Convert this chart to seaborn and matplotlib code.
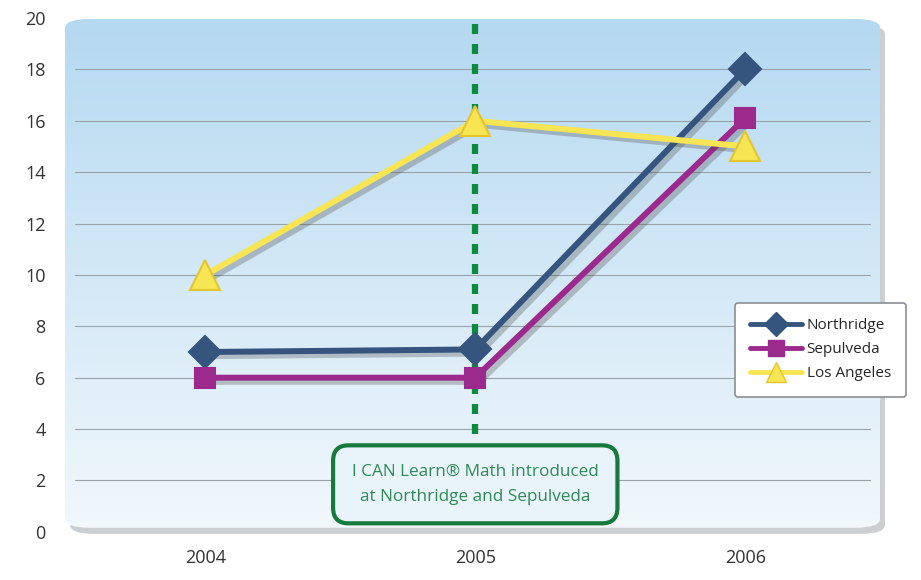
import numpy as np
import pandas as pd
import matplotlib
matplotlib.use('Agg')
import matplotlib.pyplot as plt
import matplotlib.patheffects as pe
from matplotlib.colors import to_hex
from matplotlib.patches import FancyBboxPatch
import seaborn as sns

# 数据
years = ['2004', '2005', '2006']
northridge = [7, 7.1, 18]
sepulveda = [6, 6, 16.1]
los_angeles = [10, 16, 15]
series_names = ['Northridge', 'Sepulveda', 'Los Angeles']
y_ticks = [0, 2, 4, 6, 8, 10, 12, 14, 16, 18, 20]
note_text = 'I CAN Learn\u00ae Math introduced\nat Northridge and Sepulveda'

df = pd.DataFrame({
    'year': years * 3,
    'value': northridge + sepulveda + los_angeles,
    'school': [n for n in series_names for _ in years],
})

sns.set_style('white')
plt.rcParams['font.family'] = ['Open Sans', 'DejaVu Sans']

fig = plt.figure(figsize=(9.21, 5.8), dpi=100)
ax = fig.add_axes([0.0706, 0.083, 0.885, 0.886])
ax.set_xlim(-0.52, 2.5)
ax.set_ylim(0, 20)

# 背景渐变 + 圆角框
grad = np.linspace(0, 1, 256).reshape(-1, 1)
cmap = matplotlib.colors.LinearSegmentedColormap.from_list('bg', ['#b5d9f1', '#f2f8fc'])
img = ax.imshow(grad, cmap=cmap, extent=[0, 1, 0, 1], transform=ax.transAxes,
                aspect='auto', zorder=0, origin='upper')
box = FancyBboxPatch((0.0, 0.008), 1.0, 0.99, boxstyle='round,pad=0,rounding_size=0.03',
                     transform=ax.transAxes, facecolor='none', edgecolor='none',
                     mutation_aspect=0.6)
ax.add_patch(box)
img.set_clip_path(box)
# 阴影
shadow = FancyBboxPatch((0.006, -0.004), 1.0, 0.99, boxstyle='round,pad=0,rounding_size=0.03',
                        transform=ax.transAxes, facecolor='#9aa0a6', edgecolor='none',
                        mutation_aspect=0.6, zorder=-1, alpha=0.5, clip_on=False)
ax.add_patch(shadow)

for y in y_ticks[1:-1]:
    ax.plot([0.012, 0.988], [y, y], transform=ax.get_yaxis_transform(),
            color='#9aa3aa', lw=0.8, zorder=1)

# 虚线
ax.plot([1, 1], [3.8, 20], color='#0e8a3e', lw=4.5, ls=(0, (1.6, 1.6)), zorder=2)

palette = {'Northridge': '#35557f', 'Sepulveda': '#9b2a8c', 'Los Angeles': '#f7e553'}
edge = {'Northridge': '#35557f', 'Sepulveda': '#9b2a8c', 'Los Angeles': '#e3c530'}
msize = {'Northridge': 16, 'Sepulveda': 14, 'Los Angeles': 21}
markers = {'Northridge': 'D', 'Sepulveda': 's', 'Los Angeles': '^'}
color_to_name = {v: k for k, v in palette.items()}
n_before = len(ax.lines)
sns.lineplot(data=df, x='year', y='value', hue='school', style='school',
             palette=palette, markers=markers, dashes=False, lw=4.3, ms=15,
             ax=ax, zorder=3, legend='full')
ax.set_xlim(-0.52, 2.5)
ax.set_ylim(0, 20)

# 图例（先建好，之后再改线条）
old = ax.get_legend()
handles = list(old.legend_handles)
labels = [t.get_text() for t in old.texts]
leg = ax.legend(handles, labels, loc='center', bbox_to_anchor=(0.891, 0.397),
                bbox_transform=fig.transFigure, frameon=True, fontsize=11,
                handlelength=3.4, labelspacing=0.6, borderpad=1.0, fancybox=True,
                framealpha=1, edgecolor='#8a8f94', handletextpad=0.3)
leg.get_frame().set_linewidth(1.2)
for h, name in zip(leg.legend_handles, labels):
    h.set_linewidth(3.5)
    h.set_markersize(12 if name != 'Los Angeles' else 15)
    h.set_markeredgecolor(edge[name])
    h.set_markeredgewidth(1)
leg.set_zorder(10)

shadow_fx = [pe.SimpleLineShadow(offset=(3, -3), shadow_color='#4a4a4a', alpha=0.3),
             pe.Normal()]
for line in list(ax.lines[n_before:]):
    name = color_to_name.get(to_hex(line.get_color()))
    if name is None:
        continue
    mk = line.get_marker()
    line.set_marker('')
    line.set_path_effects(shadow_fx)
    ax.plot(line.get_xdata(), line.get_ydata(), ls='', marker=mk, ms=msize[name],
            mfc=palette[name], mec=edge[name], mew=1.5, zorder=4)

# 注释框
ax.text(1, 1.85, note_text, ha='center', va='center', fontsize=12.3, color='#2f8a55',
        linespacing=1.7, zorder=5,
        bbox=dict(boxstyle='round,pad=1.1,rounding_size=0.9', facecolor='#e9f4fa',
                  edgecolor='#157a3c', lw=3))

ax.set_xticks(range(len(years)))
ax.set_xticklabels(years)
ax.set_yticks(y_ticks)
ax.tick_params(axis='both', length=0, labelsize=13, colors='#333333')
ax.tick_params(axis='x', pad=12)
ax.tick_params(axis='y', pad=14)
ax.set_xlabel('')
ax.set_ylabel('')
for s in ax.spines.values():
    s.set_visible(False)

fig.savefig('out.png', dpi=100)
